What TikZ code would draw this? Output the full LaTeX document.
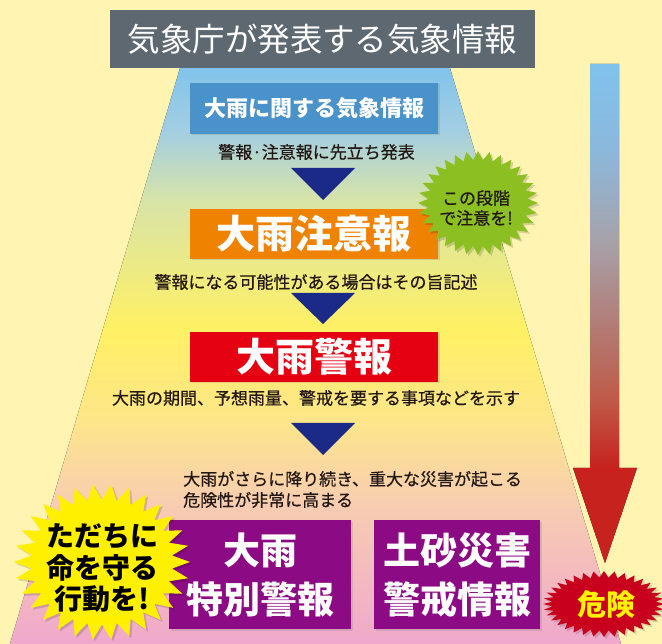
\documentclass[tikz,border=0pt]{standalone}
\usepackage{fontspec}
\newfontfamily\jp{Noto Sans CJK JP}
\newfontfamily\jpmed{Noto Sans CJK JP}[FakeBold=0.6]
\usetikzlibrary{shadows}
\definecolor{bgc}{HTML}{FFF4B2}
\definecolor{titlec}{HTML}{5D6871}
\definecolor{bluec}{HTML}{4A92CA}
\definecolor{orangec}{HTML}{EF8200}
\definecolor{redc}{HTML}{E50012}
\definecolor{purplec}{HTML}{8C0A84}
\definecolor{navyc}{HTML}{1B2A87}
\definecolor{greenc}{HTML}{8CBF22}
\definecolor{yellowc}{HTML}{FFF000}
\definecolor{dangerc}{HTML}{C8001E}
\definecolor{dangertxt}{HTML}{FFF100}
\definecolor{txtc}{HTML}{231815}
\definecolor{tpa}{HTML}{82C4EC}
\definecolor{tpb}{HTML}{A2CEE2}
\definecolor{tpc}{HTML}{D8E4A8}
\definecolor{tpd}{HTML}{FFF064}
\definecolor{tpe}{HTML}{FDE68A}
\definecolor{tpf}{HTML}{F8CEB0}
\definecolor{tpg}{HTML}{F0A8CC}
\definecolor{ara}{HTML}{80C2EC}
\definecolor{arb}{HTML}{8CB8DC}
\definecolor{arc}{HTML}{A6A2AA}
\definecolor{ard}{HTML}{BE5A48}
\definecolor{are}{HTML}{C8221E}
\pgfdeclareverticalshading{trapshade}{100bp}{color(0bp)=(tpg); color(25bp)=(tpg); color(37.5bp)=(tpf); color(44.4bp)=(tpe); color(52.3bp)=(tpd); color(63.5bp)=(tpc); color(69.6bp)=(tpb); color(75bp)=(tpa); color(100bp)=(tpa)}
\pgfdeclareverticalshading{arrowshade}{100bp}{color(0bp)=(are); color(25bp)=(are); color(34.5bp)=(are); color(41.3bp)=(ard); color(57.4bp)=(arc); color(66.4bp)=(arb); color(75bp)=(ara); color(100bp)=(ara)}
\begin{document}
\begin{tikzpicture}[x=1pt,y=-1pt,
  boxbase/.style={rectangle, inner sep=0pt, text=white, drop shadow={shadow xshift=1.5pt, shadow yshift=-1.5pt, opacity=0.25}},
  titlebox/.style={rectangle, inner sep=0pt, fill=titlec, text=white, minimum width=425pt, minimum height=58pt, font=\jp\fontsize{32.5}{36}\selectfont},
  smallbox/.style={boxbase, fill=bluec, minimum width=248pt, minimum height=51pt, font=\jp\fontsize{22}{26}\selectfont\bfseries},
  bigbox/.style={boxbase, minimum width=248pt, minimum height=50pt, font=\jp\fontsize{39}{44}\selectfont\bfseries},
  purplebox/.style={boxbase, fill=purplec, minimum height=109pt, align=center, font=\jp\fontsize{37}{49}\selectfont\bfseries},
  desc/.style={inner sep=0pt, text=txtc, font=\jpmed\fontsize{17}{21}\selectfont},
  tri/.style={fill=navyc},
  burstshadow/.style={fill=black, opacity=0.15}
]
\fill[bgc] (0,0) rectangle (662,644);
\useasboundingbox (0,0) rectangle (662,644);
% trapezoid
\fill[shading=trapshade] (180,68) -- (450,68) -- (621,644) -- (10,644) -- cycle;
% danger arrow
\fill[shading=arrowshade] (590,64) -- (619,64) -- (619,468) -- (637,468) -- (605,563) -- (573,468) -- (590,468) -- cycle;
% title
\node[titlebox] (title) at (322.5,39) {気象庁が発表する気象情報};
% blue box
\node[smallbox] (info) at (314,108.5) {大雨に関する気象情報};
\node[desc] (d1) at (316.5,152) {警報·注意報に先立ち発表};
\fill[tri] (291,168) -- (355,168) -- (323,200) -- cycle;
% orange
\node[bigbox, fill=orangec] (adv) at (314,234) {大雨注意報};
\node[desc] (d2) at (316,282) {警報になる可能性がある場合はその旨記述};
\fill[tri] (291,293) -- (355,293) -- (323,324) -- cycle;
% red
\node[bigbox, fill=redc] (warn) at (314,357) {大雨警報};
\node[desc] (d3) at (316,398) {大雨の期間、予想雨量、警戒を要する事項などを示す};
\fill[tri] (291,423) -- (355,423) -- (323,455) -- cycle;
\node[desc, anchor=west, align=left] (d4) at (183,489.5) {大雨がさらに降り続き、重大な災害が起こる\\危険性が非常に高まる};
% purple boxes
\node[purplebox, minimum width=182pt] (special) at (260,574.5) {大雨\\特別警報};
\node[purplebox, minimum width=166pt] (landslide) at (457,574.5) {土砂災害\\警戒情報};
% green burst
\fill[burstshadow] plot[samples at={0,...,63}, variable=\k] ({480+60*(1-0.17*mod(\k,2))*cos(5.625*\k)}, {205+52*(1-0.17*mod(\k,2))*sin(5.625*\k)}) -- cycle;
\fill[greenc] plot[samples at={0,...,63}, variable=\k] ({478+60*(1-0.17*mod(\k,2))*cos(5.625*\k)}, {203+52*(1-0.17*mod(\k,2))*sin(5.625*\k)}) -- cycle;
\node[desc, align=center, font=\jpmed\fontsize{17}{20}\selectfont] (caution) at (476,208) {この段階\\で注意を!};
% yellow burst
\fill[burstshadow] plot[samples at={0,...,59}, variable=\k] ({104+88*(1-0.2*mod(\k,2))*cos(6*\k)}, {564+78*(1-0.2*mod(\k,2))*sin(6*\k)}) -- cycle;
\fill[yellowc] plot[samples at={0,...,59}, variable=\k] ({102+88*(1-0.2*mod(\k,2))*cos(6*\k)}, {562+78*(1-0.2*mod(\k,2))*sin(6*\k)}) -- cycle;
\node[inner sep=0pt, align=center, text=black, font=\jp\fontsize{28}{31.5}\selectfont\bfseries] (act) at (102,568) {ただちに\\命を守る\\行動を!};
% danger burst
\fill[burstshadow] plot[samples at={0,...,71}, variable=\k] ({606+61*(1-0.15*mod(\k,2))*cos(5*\k)}, {606+33*(1-0.2*mod(\k,2))*sin(5*\k)}) -- cycle;
\fill[dangerc] plot[samples at={0,...,71}, variable=\k] ({604+61*(1-0.15*mod(\k,2))*cos(5*\k)}, {604+33*(1-0.2*mod(\k,2))*sin(5*\k)}) -- cycle;
\node[inner sep=0pt, text=dangertxt, font=\jp\fontsize{29}{32}\selectfont\bfseries] (danger) at (606,604) {危険};
\end{tikzpicture}
\end{document}
